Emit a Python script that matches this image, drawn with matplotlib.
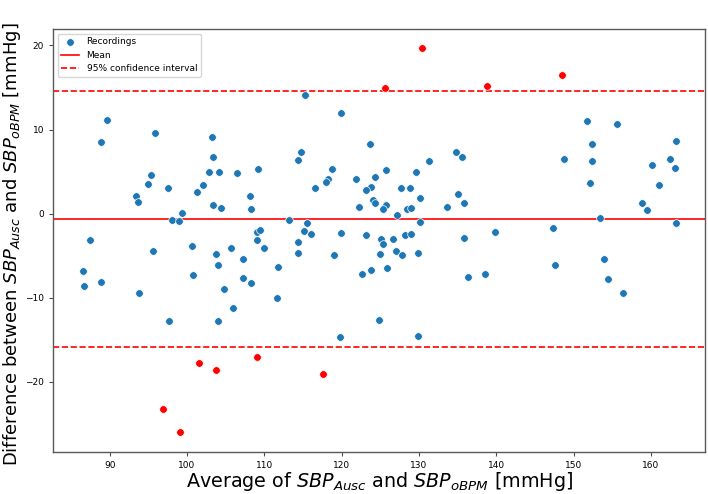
import numpy as np
import matplotlib
matplotlib.use("Agg")
import matplotlib.pyplot as plt

# recordings inside the limits (average, difference)
avg_in = [89.7, 88.8, 95.8, 103.2, 103.4, 102.8, 104.1, 106.5, 109.2, 95.3,
          95.0, 93.4, 93.6, 97.5, 101.3, 102.1, 103.4, 104.4, 108.1, 108.3,
          99.4, 98.1, 98.9, 87.4, 109.0, 109.4, 109.0, 95.6, 100.6, 103.7,
          105.7, 104.0, 107.3, 110.0, 111.8, 86.5, 86.6, 88.9, 93.8, 100.8,
          104.8, 107.2, 108.3, 106.0, 97.6, 104.0, 111.6, 115.2, 119.9, 123.7,
          114.8, 114.3, 118.7, 118.2, 118.0, 116.6, 121.8, 124.3, 123.8, 123.1,
          125.7, 129.6, 131.3, 134.8, 135.6, 127.7, 128.8, 124.0, 124.3, 122.2,
          125.7, 125.4, 130.1, 128.4, 129.0, 127.1, 133.6, 135.0, 135.8, 130.2,
          113.2, 115.5, 115.1, 116.0, 119.9, 114.4, 123.2, 125.1, 125.4, 126.6,
          128.2, 129.0, 135.8, 114.3, 119.0, 124.9, 127.0, 127.8, 129.9, 123.8,
          125.9, 122.6, 136.4, 124.8, 119.8, 129.9, 151.8, 155.6, 152.4, 163.2,
          148.8, 152.4, 160.2, 162.5, 163.1, 152.1, 161.0, 158.9, 159.5, 153.4,
          163.2, 147.4, 139.9, 147.6, 153.9, 138.6, 154.4, 156.4]
diff_in = [11.15, 8.46, 9.64, 9.13, 6.76, 4.94, 4.94, 4.82, 5.29, 4.63,
           3.48, 2.13, 1.34, 3.08, 2.53, 3.44, 0.98, 0.66, 2.09, 0.59,
           0.04, -0.79, -0.87, -3.17, -2.18, -1.95, -3.09, -4.5, -3.88, -4.75,
           -4.12, -6.13, -5.38, -4.12, -6.33, -6.85, -8.59, -8.15, -9.49, -7.32,
           -9.02, -7.64, -8.23, -11.27, -12.8, -12.74, -10.08, 14.15, 11.98, 8.30,
           7.27, 6.36, 5.26, 4.15, 3.75, 3.08, 4.07, 4.31, 3.16, 2.8,
           5.22, 4.9, 6.29, 7.27, 6.76, 3.04, 3.08, 1.61, 1.22, 0.78,
           1.07, 0.51, 1.81, 0.55, 0.71, -0.17, 0.78, 2.29, 1.30, -0.95,
           -0.79, -1.15, -2.06, -2.42, -2.30, -3.32, -2.54, -3.01, -3.64, -3.01,
           -2.49, -2.42, -2.85, -4.67, -4.95, -4.75, -4.47, -4.95, -4.63, -6.65,
           -6.5, -7.17, -7.56, -12.6, -14.67, -14.5, 11.03, 10.6, 8.22, 8.66,
           6.44, 6.28, 5.73, 6.48, 5.46, 3.59, 3.36, 1.22, 0.47, -0.47,
           -1.11, -1.71, -2.22, -6.13, -5.38, -7.16, -7.79, -9.49]

# recordings outside the limits
avg_out = [130.4, 125.6, 101.6, 103.75, 109.0, 96.9, 99.1, 117.6, 138.8, 148.5]
diff_out = [19.65, 14.95, -17.7, -18.6, -17.1, -23.25, -26.0, -19.06, 15.18, 16.49]

mean_diff = -0.65
upper_lim = 14.55
lower_lim = -15.85

fig = plt.figure(figsize=(7.08, 4.94), dpi=100)
ax = fig.add_axes([0.075, 0.086, 0.921, 0.855])

pts = ax.scatter(avg_in, diff_in, s=30, color='#1f77b4', edgecolors='white',
                 linewidths=0.5, label='Recordings', zorder=3)
ax.scatter(avg_out, diff_out, s=30, color='red', edgecolors='white',
           linewidths=0.5, zorder=3)
l1 = ax.axhline(mean_diff, color='red', lw=1.2, label='Mean')
l2 = ax.axhline(upper_lim, color='red', lw=1.2, ls='--', label='95% confidence interval')
ax.axhline(lower_lim, color='red', lw=1.2, ls='--')

ax.legend(handles=[pts, l1, l2], loc='upper left', fontsize=6.5, framealpha=0.8)

ax.set_xlabel("Average of $SBP_{Ausc}$ and $SBP_{oBPM}$ [mmHg]", fontsize=13.8, labelpad=0)
ax.set_ylabel("Difference between $SBP_{Ausc}$ and $SBP_{oBPM}$ [mmHg]", fontsize=13.0)
ax.yaxis.set_label_coords(-0.046, 0.49)
ax.tick_params(labelsize=6.5, length=3, width=0.8, color='0.3')
for s in ax.spines.values():
    s.set_color('0.35')
    s.set_linewidth(1.0)

fig.savefig("out.png", dpi=100)
